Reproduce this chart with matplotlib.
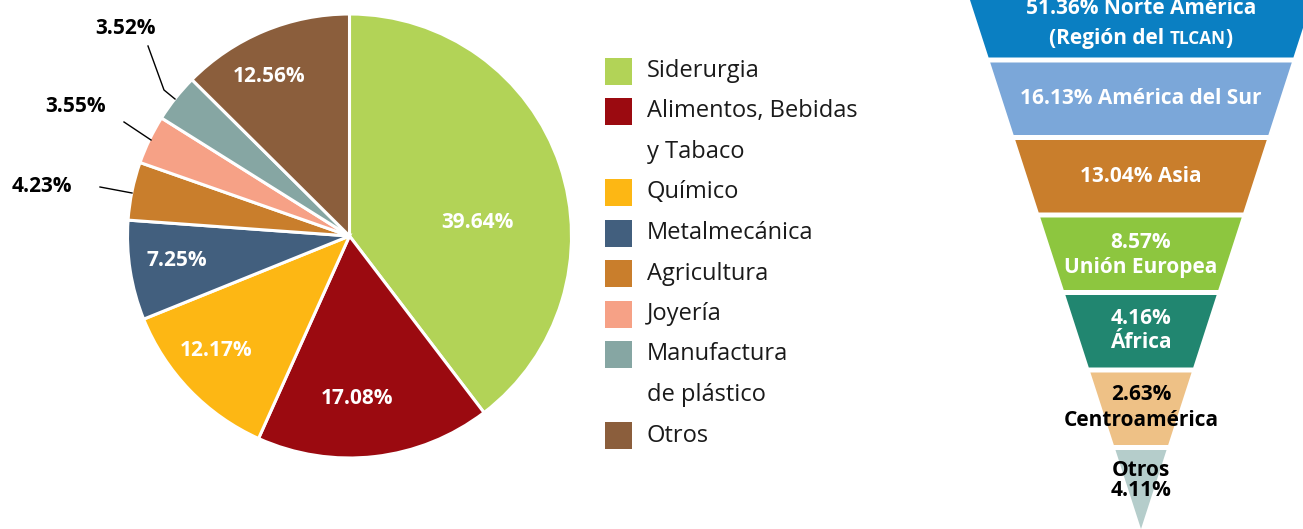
import matplotlib
matplotlib.use("Agg")
import matplotlib.pyplot as plt
from matplotlib.patches import Polygon, Rectangle

plt.rcParams['font.family'] = ['Open Sans', 'DejaVu Sans']

# ---------------- data ----------------
sectors = ["Siderurgia", "Alimentos, Bebidas\ny Tabaco", "Químico", "Metalmecánica",
           "Agricultura", "Joyería", "Manufactura\nde plástico", "Otros"]
sector_values = [39.64, 17.08, 12.17, 7.25, 4.23, 3.55, 3.52, 12.56]
sector_colors = ["#B2D357", "#9B0A10", "#FDB714", "#425F7E",
                 "#C97E2C", "#F6A186", "#86A6A3", "#8B5E3C"]

regions = ["Norte América", "América del Sur", "Asia", "Unión Europea",
           "África", "Centroamérica", "Otros"]
region_values = [51.36, 16.13, 13.04, 8.57, 4.16, 2.63, 4.11]
region_colors = ["#0A7FC2", "#7BA7D9", "#C97E2C", "#8DC63F",
                 "#218670", "#EEC186", "#B5CDCB"]

W, H = 1303, 529
fig = plt.figure(figsize=(W / 100, H / 100), dpi=100)
ax = fig.add_axes([0, 0, 1, 1])

def Y(ypix):
    return H - ypix

# ---------------- pie ----------------
cx, cy, R = 349.5, 236, 222
wedges, _ = ax.pie(sector_values, colors=sector_colors, startangle=90, counterclock=False,
                   center=(cx, Y(cy)), radius=R,
                   wedgeprops=dict(edgecolor="white", linewidth=2.2))
ax.set_xlim(0, W)
ax.set_ylim(0, H)
ax.set_aspect("equal")
ax.axis("off")

fs_pie = 15
# label anchor positions (layout, in pixels from top-left)
label_pos = [(477, 223), (357, 398), (216, 351), (177, 260),
             (42, 187), (76, 107), (126, 28), (269, 76)]
label_inside = [True, True, True, True, False, False, False, True]
ext_lines = {4: [(100, 187), (132, 193)],
             5: [(124, 122), (151, 140)],
             6: [(148, 46), (164, 90), (175, 99)]}
for i, v in enumerate(sector_values):
    lx, ly = label_pos[i]
    ax.text(lx, Y(ly), f"{v:.2f}%", color="white" if label_inside[i] else "black",
            fontsize=fs_pie, fontweight="bold", ha="center", va="center")
    if i in ext_lines:
        pts = ext_lines[i]
        ax.plot([p[0] for p in pts], [Y(p[1]) for p in pts], color="black", lw=1.0)

# ---------------- legend ----------------
row_y0, row_h = 71, 40.5
row = 0
for name, col in zip(sectors, sector_colors):
    lines = name.split("\n")
    yc = row_y0 + row * row_h
    ax.add_patch(Rectangle((605, Y(yc + 13.5)), 27, 27, facecolor=col, edgecolor="none"))
    for k, ln in enumerate(lines):
        ax.text(647, Y(row_y0 + (row + k) * row_h), ln, fontsize=17, color="#1a1a1a",
                ha="left", va="center")
    row += len(lines)

# ---------------- funnel ----------------
fx_c = 1141
top0 = -15
pitch = 77.5
gap = 5
apex_y = 529
slope = 171 / 529
half_top = fx_c - 970

def half(y):
    return half_top - slope * y

n = len(regions)
for i, col in enumerate(region_colors):
    yt = top0 + i * pitch
    yb = yt + pitch - gap if i < n - 1 else apex_y
    if i < n - 1:
        pts = [(fx_c - half(yt), Y(yt)), (fx_c + half(yt), Y(yt)),
               (fx_c + half(yb), Y(yb)), (fx_c - half(yb), Y(yb))]
    else:
        pts = [(fx_c - half(yt), Y(yt)), (fx_c + half(yt), Y(yt)), (fx_c, Y(yb))]
    ax.add_patch(Polygon(pts, closed=True, facecolor=col, edgecolor="none"))

fs_f = 15
def ftext(y, s, color="white"):
    ax.text(fx_c, Y(y), s, color=color, fontsize=fs_f, fontweight="bold",
            ha="center", va="center")

ftext(9, f"{region_values[0]:.2f}% {regions[0]}")
fig.canvas.draw()
r = fig.canvas.get_renderer()
parts = [("(Región del ", fs_f), ("TLCAN", fs_f * 0.82), (")", fs_f)]
objs = []
for s, fs in parts:
    t = ax.text(0, Y(44), s, color="white", fontsize=fs, fontweight="bold",
                ha="left", va="baseline")
    objs.append(t)
widths = [t.get_window_extent(r).width for t in objs]
total = sum(widths)
x = fx_c - total / 2
for t, wdt in zip(objs, widths):
    t.set_x(x)
    x += wdt

ftext(99, f"{region_values[1]:.2f}% {regions[1]}")
ftext(177, f"{region_values[2]:.2f}% {regions[2]}")
ftext(243, f"{region_values[3]:.2f}%")
ftext(268, regions[3])
ftext(318, f"{region_values[4]:.2f}%")
ftext(343, regions[4])
ftext(395, f"{region_values[5]:.2f}%", color="black")
ftext(420, regions[5], color="black")
ftext(470, regions[6], color="black")
ftext(491, f"{region_values[6]:.2f}%", color="black")

fig.savefig("out.png", dpi=100, facecolor="white")
